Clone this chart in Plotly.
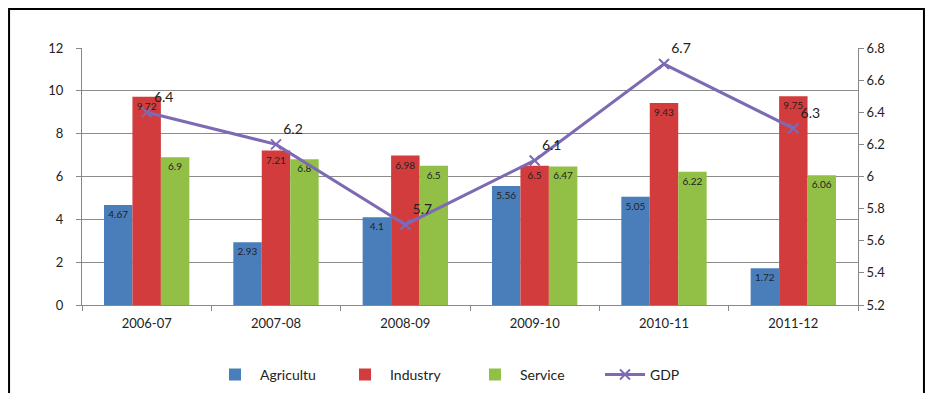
import plotly.graph_objects as go

years = ["2006-07", "2007-08", "2008-09", "2009-10", "2010-11", "2011-12"]
agriculture = [4.67, 2.93, 4.1, 5.56, 5.05, 1.72]
industry = [9.72, 7.21, 6.98, 6.5, 9.43, 9.75]
service = [6.9, 6.8, 6.5, 6.47, 6.22, 6.06]
gdp = [6.4, 6.2, 5.7, 6.1, 6.7, 6.3]

font_family = "Lato, 'Open Sans', sans-serif"

fig = go.Figure()

bar_series = [
    ("Agricultu", agriculture, "#4a7ebb"),
    ("Industry", industry, "#d23c3c"),
    ("Service", service, "#92c047"),
]
for name, values, color in bar_series:
    fig.add_trace(
        go.Bar(
            x=years,
            y=values,
            name=name,
            marker=dict(color=color, line=dict(width=0)),
            text=[f"{v:g}" for v in values],
            textposition="inside",
            insidetextanchor="end",
            textfont=dict(size=10, color="#222222", family=font_family),
            textangle=0,
        )
    )

fig.add_trace(
    go.Scatter(
        x=years,
        y=gdp,
        name="GDP",
        yaxis="y2",
        mode="lines+markers+text",
        line=dict(color="#7d69b4", width=3),
        marker=dict(symbol="x-thin", size=10, line=dict(color="#7d69b4", width=2)),
        text=[f"{v:g}" for v in gdp],
        textposition="top right",
        textfont=dict(size=14, color="#222222", family=font_family),
        cliponaxis=False,
    )
)

# the page body adds 8px on every side, so the figure is 16px smaller than the window
fig.update_layout(
    width=918,
    height=385,
    margin=dict(l=74, r=68, t=40, b=88, autoexpand=False),
    paper_bgcolor="white",
    plot_bgcolor="white",
    barmode="group",
    bargap=0.34,
    bargroupgap=0,
    font=dict(family=font_family, size=12, color="#333333"),
    xaxis=dict(
        type="category",
        showgrid=False,
        showline=True,
        linecolor="#888888",
        ticks="outside",
        tickcolor="#888888",
        tickfont=dict(size=13, color="#222222"),
        tickson="boundaries",
        ticklabelstandoff=6,
    ),
    yaxis=dict(
        range=[0, 12],
        dtick=2,
        showgrid=True,
        gridcolor="#8c8c8c",
        gridwidth=1,
        showline=True,
        linecolor="#888888",
        ticks="outside",
        tickcolor="#888888",
        tickfont=dict(size=13, color="#222222"),
        zeroline=False,
        ticklabelstandoff=10,
    ),
    yaxis2=dict(
        range=[5.2, 6.8],
        dtick=0.2,
        overlaying="y",
        side="right",
        showgrid=False,
        showline=True,
        linecolor="#888888",
        ticks="outside",
        tickcolor="#888888",
        tickfont=dict(size=13, color="#222222"),
        tickformat="~g",
    ),
    legend=dict(
        orientation="h",
        x=0.5,
        xanchor="center",
        yref="container",
        y=0.047,
        yanchor="middle",
        font=dict(size=14, color="#222222"),
        itemwidth=40,
        entrywidth=75,
    ),
    shapes=[
        dict(
            type="rect",
            xref="paper",
            yref="paper",
            x0=-0.094,
            x1=1.085,
            y0=-0.5,
            y1=1.152,
            line=dict(color="black", width=2),
            fillcolor="rgba(0,0,0,0)",
        )
    ],
)

fig.write_html("out.html")
